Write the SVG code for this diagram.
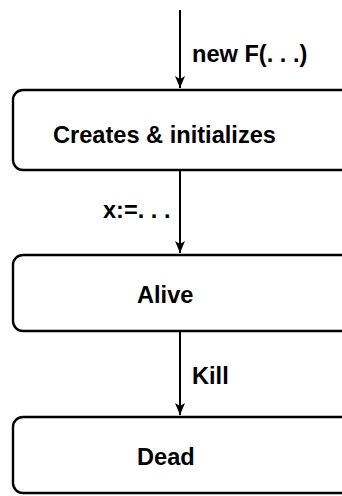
<svg xmlns="http://www.w3.org/2000/svg" width="342" height="496" viewBox="0 0 342 496">
<defs>
<style>
.box{fill:#fff;stroke:#000;stroke-width:2.4}
.lbl{font-family:"Liberation Sans",Arial,sans-serif;font-weight:bold;font-size:23.6px;fill:#000}
.edge{stroke:#000;stroke-width:2;fill:none}
</style>
<marker id="ah" viewBox="0 0 12 12" refX="12" refY="6" markerWidth="12" markerHeight="12" markerUnits="userSpaceOnUse" orient="auto">
<path d="M0,1 L12,6 L0,11 L3,6 Z" fill="#000"/>
</marker>
</defs>
<rect width="342" height="496" fill="#fff"/>
<g id="connectors">
<line class="edge" x1="180" y1="10" x2="180" y2="88" marker-end="url(#ah)"/>
<text class="lbl" x="192" y="62">new F(. . .)</text>
<line class="edge" x1="180" y1="171" x2="180" y2="253" marker-end="url(#ah)"/>
<text class="lbl" x="103" y="218">x:=. . .</text>
<line class="edge" x1="180" y1="332" x2="180" y2="415" marker-end="url(#ah)"/>
<text class="lbl" x="192" y="384">Kill</text>
</g>
<g id="node-creates">
<rect class="box" x="13" y="90" width="360" height="80" rx="10"/>
<text class="lbl" x="53" y="143">Creates &amp; initializes</text>
</g>
<g id="node-alive">
<rect class="box" x="13" y="255" width="360" height="76" rx="10"/>
<text class="lbl" x="137" y="303">Alive</text>
</g>
<g id="node-dead">
<rect class="box" x="13" y="417" width="360" height="76" rx="10"/>
<text class="lbl" x="137" y="465">Dead</text>
</g>
</svg>
